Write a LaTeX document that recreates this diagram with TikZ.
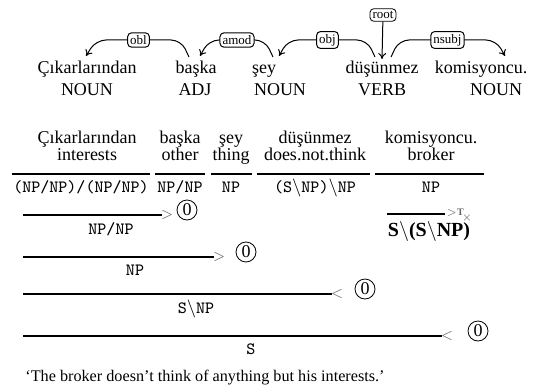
\documentclass[tikz,border=0pt]{standalone}
\usepackage{fontspec}
\setmainfont{Liberation Serif}
\usepackage{tikz}
\usetikzlibrary{positioning,arrows.meta}

\tikzset{
  word/.style={inner sep=0pt, anchor=base, font=\fontsize{9}{10}\selectfont},
  cat/.style={inner sep=0pt, anchor=base, font=\fontsize{8.6}{10}\selectfont\ttfamily},
  deplabel/.style={draw, rounded corners=2pt, fill=white, inner sep=1.3pt, font=\fontsize{6.5}{8}\selectfont},
  deparc/.style={-{To[length=3pt,width=4pt]}, rounded corners=5pt, line width=0.5pt},
  rule/.style={line width=0.6pt},
  rulemark/.style={inner sep=0pt, text=black!60, font=\scriptsize},
  ruleno/.style={circle, draw, inner sep=0pt, minimum size=10pt, font=\fontsize{9}{10}\selectfont},
}

\begin{document}
\begin{tikzpicture}[x=0.5pt, y=-0.5pt]
  \useasboundingbox (0,0) rectangle (555,390);

  % dependency tree
  \node[word] (w1) at (87,74) {Çıkarlarından};
  \node[word] (w2) at (196,74) {başka};
  \node[word] (w3) at (264,74) {şey};
  \node[word] (w4) at (382,74) {düşünmez};
  \node[word] (w5) at (481,74) {komisyoncu.};
  \node[word] (p1) at (87,96) {NOUN};
  \node[word] (p2) at (195,96) {ADJ};
  \node[word] (p3) at (280,96) {NOUN};
  \node[word] (p4) at (382,96) {VERB};
  \node[word] (p5) at (496,96) {NOUN};

  \coordinate (obl-s) at (189,57);   \coordinate (obl-e) at (86,56);
  \coordinate (amod-s) at (273,57);  \coordinate (amod-e) at (200,56);
  \coordinate (obj-s) at (375,57);   \coordinate (obj-e) at (279,56);
  \coordinate (nsubj-s) at (391,57); \coordinate (nsubj-e) at (505,56);
  \coordinate (root-e) at (382,59);

  \draw[deparc] (obl-s) -- (181,40) -- node[deplabel] (lobl) {obl} (96,40) -- (obl-e);
  \draw[deparc] (amod-s) -- (265,40) -- node[deplabel] (lamod) {amod} (209,40) -- (amod-e);
  \draw[deparc] (obj-s) -- (367,40) -- node[deplabel] (lobj) {obj} (288,40) -- (obj-e);
  \draw[deparc] (nsubj-s) -- (399,40) -- node[deplabel] (lnsubj) {nsubj} (496,40) -- (nsubj-e);
  \node[deplabel] (lroot) at (383,15) {root};
  \draw[deparc] (lroot) -- (root-e);

  % CCG derivation: words and glosses
  \node[word] (h1) at (87,143) {Çıkarlarından};
  \node[word] (h2) at (180,143) {başka};
  \node[word] (h3) at (231,143) {şey};
  \node[word] (h4) at (315,143) {düşünmez};
  \node[word] (h5) at (431,143) {komisyoncu.};
  \node[word] (g1) at (87,160) {interests};
  \node[word] (g2) at (180,160) {other};
  \node[word] (g3) at (231,160) {thing};
  \node[word] (g4) at (315,160) {does.not.think};
  \node[word] (g5) at (431,160) {broker};

  \draw[rule] (12,174) -- (150,174);
  \draw[rule] (155,174) -- (205,174);
  \draw[rule] (211,174) -- (252,174);
  \draw[rule] (257,174) -- (370,174);
  \draw[rule] (375,174) -- (484,174);

  \node[cat] (c1) at (81,192) {(NP/NP)/(NP/NP)};
  \node[cat] (c2) at (180,192) {NP/NP};
  \node[cat] (c3) at (231,192) {NP};
  \node[cat] (c4) at (315,192) {(S$\backslash$NP)$\backslash$NP};
  \node[cat] (c5) at (431,192) {NP};

  % combination steps
  \draw[rule] (23,215) -- (162,215);
  \node[rulemark] (m1) at (167,215) {$>$};
  \node[ruleno] (n1) at (187,210) {0};
  \node[cat] (r1) at (111,234) {NP/NP};

  \draw[rule] (387,214) -- (445,214);
  \node[rulemark, anchor=west] (m5) at (446,213) {\tiny$>$\textbf{T}};
  \node[rulemark] (x5) at (467,218) {\tiny$\times$};
  \node[word, font=\fontsize{10}{12}\selectfont] (r5) at (429,236) {\textbf{S$\backslash$(S$\backslash$NP)}};

  \draw[rule] (23,257) -- (214,257);
  \node[rulemark] (m2) at (219,257) {$>$};
  \node[ruleno] (n2) at (246,252) {0};
  \node[cat] (r2) at (135,275) {NP};

  \draw[rule] (23,294) -- (332,294);
  \node[rulemark] (m3) at (337,294) {$<$};
  \node[ruleno] (n3) at (365,289) {0};
  \node[cat] (r3) at (196,313) {S$\backslash$NP};

  \draw[rule] (23,336) -- (442,336);
  \node[rulemark] (m4) at (447,336) {$<$};
  \node[ruleno] (n4) at (478,331) {0};
  \node[cat] (r4) at (251,354) {S};

  \node[word, anchor=base west, font=\fontsize{8.1}{10}\selectfont] (tr) at (25,381)
    {‘The broker doesn’t think of anything but his interests.’};
\end{tikzpicture}
\end{document}
